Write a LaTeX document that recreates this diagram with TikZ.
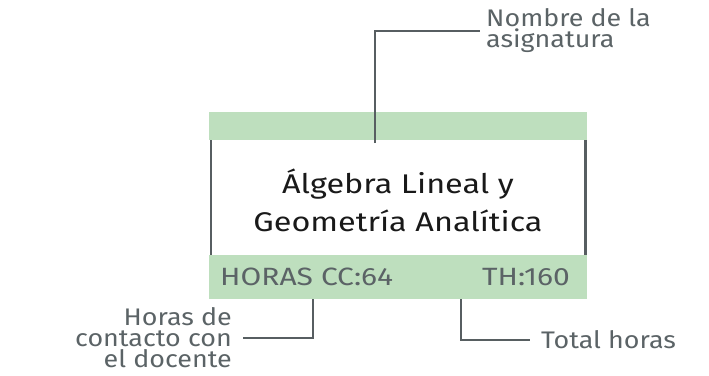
\documentclass[tikz,border=0pt]{standalone}
\usepackage{fontspec}
\setmainfont{Fira Sans}[FakeStretch=1.12]
\newfontfamily\titlefont{Fira Sans}[FakeStretch=1.2]
\newfontfamily\bandfont{Fira Sans}[FakeStretch=1.2]
\usepackage{xcolor}
\usepackage{tikz}
\usetikzlibrary{calc,positioning}

\begin{document}
\begin{tikzpicture}[
    x=1pt,y=-1pt,
    band/.style={fill=band,draw=none,minimum width=378pt,inner sep=0pt},
    leader/.style={draw=leader,line width=2.6pt},
    callout/.style={text=note,font=\fontsize{24}{21}\selectfont,inner xsep=11pt,inner ysep=0pt},
    bandtext/.style={inner sep=0pt,text=note,font=\bandfont\fontsize{25}{30}\selectfont}
  ]
  \definecolor{band}{RGB}{190,223,190}
  \definecolor{leader}{RGB}{87,94,97}
  \definecolor{note}{RGB}{91,99,102}
  \useasboundingbox (0,0) rectangle (709,375);
  % header and footer bands
  \node [band,minimum height=28pt] (topband) at (398,126) {};
  \node [band,minimum height=44pt] (bottomband) at (398,277) {};
  \draw [leader] ([xshift=2pt]topband.south west) -- ([xshift=2pt]bottomband.north west);
  \draw [leader] ([xshift=-2pt]topband.south east) -- ([xshift=-2pt]bottomband.north east);
  \node [align=center,text=black!90,font=\titlefont\fontsize{27}{38}\selectfont] (title) at (398,200)
    {Álgebra Lineal y\\Geometría Analítica};
  \node [bandtext,anchor=base west] (hcc) at (220,285) {HORAS CC:64};
  \node [bandtext,anchor=base east] (th) at (570,285) {TH:160};
  % callouts
  \node [callout,anchor=west,align=left,inner xsep=6pt] (namelabel) at (480,31) {Nombre de la\\asignatura};
  \node [callout,anchor=east,align=right] (hcclabel) at (243,338) {Horas de\\contacto con\\el docente};
  \node [callout,anchor=west,align=left] (thlabel) at (530,340) {Total horas};
  \coordinate (namefoot) at (375,143);
  \coordinate (hccfoot) at (bottomband.south -| 313,0);
  \coordinate (thfoot) at (bottomband.south -| 461,0);
  \draw [leader] (namefoot) |- (namelabel.west);
  \draw [leader] (hccfoot) |- (hcclabel.east);
  \draw [leader] (thfoot) |- (thlabel.west);
\end{tikzpicture}
\end{document}
